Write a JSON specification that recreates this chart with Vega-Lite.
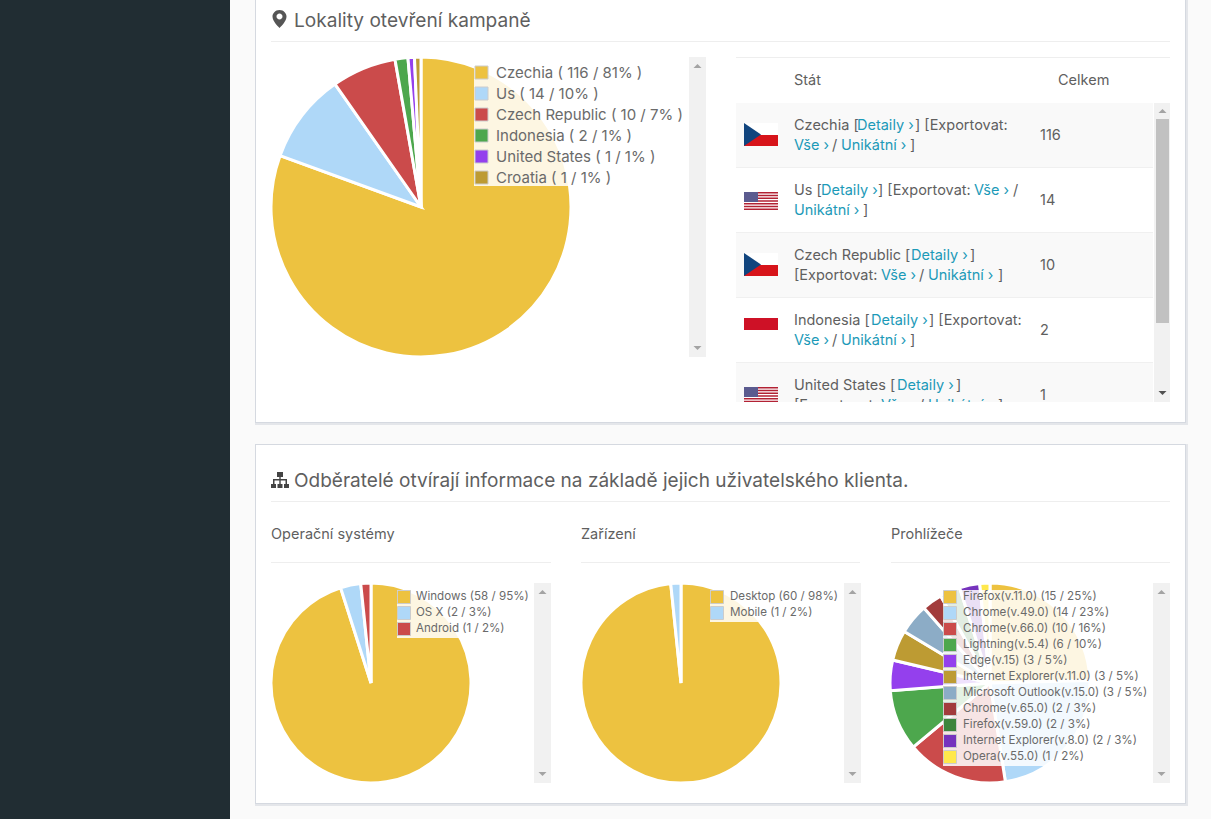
{"$schema":"https://vega.github.io/schema/vega-lite/v6.json","width":1211,"height":819,"autosize":{"type":"fit","contains":"padding"},"padding":0,"background":"#fafafa",
"config":{"view":{"stroke":null},"axis":{"disable":true},"text":{"align":"left","baseline":"middle","font":"Inter","fontSize":14.5,"color":"#5f5f5f","dy":1},"point":{"filled":true,"opacity":1,"size":4,"strokeWidth":0},"legend":{"labelFont":"Inter","labelColor":"#6a6a6a","symbolType":"square","symbolStrokeColor":"#cccccc","symbolStrokeWidth":1,"symbolOpacity":1,"labelLimit":500,"padding":0,"fillColor":"rgba(255,255,255,0.85)","orient":"none"}},
"resolve":{"scale":{"color":"independent","theta":"independent"},"legend":{"color":"independent"}},
"data":{"values":[{"k":"frame"}]},
"layer":[
{"mark":{"type":"rect","color":"#212d33"},"encoding":{"x":{"datum":0,"scale":{"domain":[0,1211],"range":[0,1211],"nice":false,"zero":false}},"x2":{"datum":230},"y":{"datum":0,"scale":{"domain":[0,819],"range":[0,819],"nice":false,"zero":false}},"y2":{"datum":819}}},
{"mark":{"type":"rect","color":"#e4e6ea"},"encoding":{"x":{"datum":255},"x2":{"datum":1188},"y":{"datum":0},"y2":{"datum":425}}},
{"mark":{"type":"rect","color":"#d5d9e0"},"encoding":{"x":{"datum":255},"x2":{"datum":1186},"y":{"datum":0},"y2":{"datum":423}}},
{"mark":{"type":"rect","color":"#ffffff"},"encoding":{"x":{"datum":256},"x2":{"datum":1185},"y":{"datum":0},"y2":{"datum":422}}},
{"mark":{"type":"rect","color":"#e4e6ea"},"encoding":{"x":{"datum":255},"x2":{"datum":1188},"y":{"datum":444},"y2":{"datum":806}}},
{"mark":{"type":"rect","color":"#d5d9e0"},"encoding":{"x":{"datum":255},"x2":{"datum":1186},"y":{"datum":444},"y2":{"datum":804}}},
{"mark":{"type":"rect","color":"#ffffff"},"encoding":{"x":{"datum":256},"x2":{"datum":1185},"y":{"datum":445},"y2":{"datum":803}}},
{"mark":{"type":"rect","color":"#eeeeee"},"encoding":{"x":{"datum":271},"x2":{"datum":1170},"y":{"datum":41},"y2":{"datum":42}}},
{"mark":{"type":"rect","color":"#eeeeee"},"encoding":{"x":{"datum":271},"x2":{"datum":1170},"y":{"datum":501},"y2":{"datum":502}}},
{"mark":{"type":"rect","color":"#eeeeee"},"encoding":{"x":{"datum":271},"x2":{"datum":551},"y":{"datum":562},"y2":{"datum":563}}},
{"mark":{"type":"rect","color":"#eeeeee"},"encoding":{"x":{"datum":581},"x2":{"datum":860},"y":{"datum":562},"y2":{"datum":563}}},
{"mark":{"type":"rect","color":"#eeeeee"},"encoding":{"x":{"datum":891},"x2":{"datum":1170},"y":{"datum":562},"y2":{"datum":563}}},
{"mark":{"type":"point","color":"#555555","shape":"M0,-9C-4.5,-9 -7,-5.5 -7,-2.5C-7,2 -2,7 0,9C2,7 7,2 7,-2.5C7,-5.5 4.5,-9 0,-9ZM0,-5.5A3,3 0 1 1 -0.01,-5.5Z"},"encoding":{"x":{"datum":279.5},"y":{"datum":19}}},
{"mark":{"type":"point","color":"#444444","shape":"M-3,-8H3V-3H-3ZM-0.7,-3H0.7V-1H7V4H5.5V0.5H0.7V4H-0.7V0.5H-5.5V4H-7V-1H-0.7ZM-9,4H-4V8H-9ZM-2.5,4H2.5V8H-2.5ZM4,4H9V8H4Z"},"encoding":{"x":{"datum":280},"y":{"datum":480}}},
{"data":{"values":[{"t":"Lokality otevření kampaně"}]},"mark":{"type":"text","fontSize":19.1},"encoding":{"x":{"datum":294},"y":{"datum":20},"text":{"field":"t"}}},
{"data":{"values":[{"t":"Odběratelé otvírají informace na základě jejich uživatelského klienta."}]},"mark":{"type":"text","fontSize":19.05},"encoding":{"x":{"datum":294},"y":{"datum":480},"text":{"field":"t"}}},
{"data":{"values":[{"t":"Operační systémy"}]},"mark":{"type":"text"},"encoding":{"x":{"datum":271},"y":{"datum":534},"text":{"field":"t"}}},
{"data":{"values":[{"t":"Zařízení"}]},"mark":{"type":"text"},"encoding":{"x":{"datum":581},"y":{"datum":534},"text":{"field":"t"}}},
{"data":{"values":[{"t":"Prohlížeče"}]},"mark":{"type":"text"},"encoding":{"x":{"datum":891},"y":{"datum":534},"text":{"field":"t"}}},

{"mark":{"type":"rect","color":"#f1f1f1"},"encoding":{"x":{"datum":689},"x2":{"datum":706},"y":{"datum":57},"y2":{"datum":357}}},
{"mark":{"type":"rect","color":"#f1f1f1"},"encoding":{"x":{"datum":534},"x2":{"datum":551},"y":{"datum":583},"y2":{"datum":783}}},
{"mark":{"type":"rect","color":"#f1f1f1"},"encoding":{"x":{"datum":844},"x2":{"datum":861},"y":{"datum":583},"y2":{"datum":783}}},
{"mark":{"type":"rect","color":"#f1f1f1"},"encoding":{"x":{"datum":1153},"x2":{"datum":1170},"y":{"datum":583},"y2":{"datum":783}}},
{"mark":{"type":"point","color":"#a3a3a3","shape":"M-4,2L4,2L0,-2Z"},"encoding":{"x":{"datum":697.5},"y":{"datum":66}}},
{"mark":{"type":"point","color":"#a3a3a3","shape":"M-4,-2L4,-2L0,2Z"},"encoding":{"x":{"datum":697.5},"y":{"datum":348}}},
{"mark":{"type":"point","color":"#a3a3a3","shape":"M-4,2L4,2L0,-2Z"},"encoding":{"x":{"datum":542.5},"y":{"datum":592}}},
{"mark":{"type":"point","color":"#a3a3a3","shape":"M-4,-2L4,-2L0,2Z"},"encoding":{"x":{"datum":542.5},"y":{"datum":774}}},
{"mark":{"type":"point","color":"#a3a3a3","shape":"M-4,2L4,2L0,-2Z"},"encoding":{"x":{"datum":852.5},"y":{"datum":592}}},
{"mark":{"type":"point","color":"#a3a3a3","shape":"M-4,-2L4,-2L0,2Z"},"encoding":{"x":{"datum":852.5},"y":{"datum":774}}},
{"mark":{"type":"point","color":"#a3a3a3","shape":"M-4,2L4,2L0,-2Z"},"encoding":{"x":{"datum":1161.5},"y":{"datum":592}}},
{"mark":{"type":"point","color":"#a3a3a3","shape":"M-4,-2L4,-2L0,2Z"},"encoding":{"x":{"datum":1161.5},"y":{"datum":774}}},

{"data":{"values":[{"label":"Czechia ( 116 / 81% )","value":116,"i":1},{"label":"Us ( 14 / 10% )","value":14,"i":2},{"label":"Czech Republic ( 10 / 7% )","value":10,"i":3},{"label":"Indonesia ( 2 / 1% )","value":2,"i":4},{"label":"United States ( 1 / 1% )","value":1,"i":5},{"label":"Croatia ( 1 / 1% )","value":1,"i":6}]},
"mark":{"type":"arc","outerRadius":150,"stroke":"#ffffff","strokeWidth":3},
"encoding":{"x":{"datum":421},"y":{"datum":207},"theta":{"field":"value","type":"quantitative"},"order":{"field":"i","type":"quantitative"},
"color":{"field":"label","type":"nominal","sort":null,"scale":{"range":["#edc240","#afd8f8","#cb4b4b","#4da74d","#9440ed","#bd9b33"]},"legend":{"title":null,"legendX":474,"legendY":65,"symbolSize":169,"labelFontSize":15,"labelOffset":7,"rowPadding":4,"encode":{"symbols":{"update":{"stroke":{"value":"#cccccc"},"strokeWidth":{"value":1}}}}}}}},

{"data":{"values":[{"label":"Windows (58 / 95%)","value":58,"i":1},{"label":"OS X (2 / 3%)","value":2,"i":2},{"label":"Android (1 / 2%)","value":1,"i":3}]},
"mark":{"type":"arc","outerRadius":100,"stroke":"#ffffff","strokeWidth":3},
"encoding":{"x":{"datum":371},"y":{"datum":683},"theta":{"field":"value","type":"quantitative"},"order":{"field":"i","type":"quantitative"},
"color":{"field":"label","type":"nominal","sort":null,"scale":{"range":["#edc240","#afd8f8","#cb4b4b"]},"legend":{"title":null,"legendX":397,"legendY":590,"symbolSize":169,"labelFontSize":11.6,"labelOffset":5,"rowPadding":-2,"encode":{"symbols":{"update":{"stroke":{"value":"#cccccc"},"strokeWidth":{"value":1}}}}}}}},

{"data":{"values":[{"label":"Desktop (60 / 98%)","value":60,"i":1},{"label":"Mobile (1 / 2%)","value":1,"i":2}]},
"mark":{"type":"arc","outerRadius":100,"stroke":"#ffffff","strokeWidth":3},
"encoding":{"x":{"datum":681},"y":{"datum":683},"theta":{"field":"value","type":"quantitative"},"order":{"field":"i","type":"quantitative"},
"color":{"field":"label","type":"nominal","sort":null,"scale":{"range":["#edc240","#afd8f8"]},"legend":{"title":null,"legendX":710,"legendY":590,"symbolSize":169,"labelFontSize":11.6,"labelOffset":6,"rowPadding":-2,"encode":{"symbols":{"update":{"stroke":{"value":"#cccccc"},"strokeWidth":{"value":1}}}}}}}},

{"data":{"values":[{"label":"Firefox(v.11.0) (15 / 25%)","value":15,"i":1},{"label":"Chrome(v.49.0) (14 / 23%)","value":14,"i":2},{"label":"Chrome(v.66.0) (10 / 16%)","value":10,"i":3},{"label":"Lightning(v.5.4) (6 / 10%)","value":6,"i":4},{"label":"Edge(v.15) (3 / 5%)","value":3,"i":5},{"label":"Internet Explorer(v.11.0) (3 / 5%)","value":3,"i":6},{"label":"Microsoft Outlook(v.15.0) (3 / 5%)","value":3,"i":7},{"label":"Chrome(v.65.0) (2 / 3%)","value":2,"i":8},{"label":"Firefox(v.59.0) (2 / 3%)","value":2,"i":9},{"label":"Internet Explorer(v.8.0) (2 / 3%)","value":2,"i":10},{"label":"Opera(v.55.0) (1 / 2%)","value":1,"i":11}]},
"mark":{"type":"arc","outerRadius":100,"stroke":"#ffffff","strokeWidth":3},
"encoding":{"x":{"datum":990},"y":{"datum":683},"theta":{"field":"value","type":"quantitative"},"order":{"field":"i","type":"quantitative"},
"color":{"field":"label","type":"nominal","sort":null,"scale":{"range":["#edc240","#afd8f8","#cb4b4b","#4da74d","#9440ed","#bd9b33","#8cacc6","#a23c3c","#3d853d","#7633bd","#ffe84c"]},"legend":{"title":null,"legendX":943,"legendY":590,"symbolSize":169,"labelFontSize":11.6,"labelOffset":6,"rowPadding":-2,"symbolLimit":20,"encode":{"symbols":{"update":{"stroke":{"value":"#cccccc"},"strokeWidth":{"value":1}}}}}}}},

{"mark":{"type":"rect","color":"#eeeeee"},"encoding":{"x":{"datum":736},"x2":{"datum":1170},"y":{"datum":57},"y2":{"datum":58}}},
{"data":{"values":[{"t":"Stát"}]},"mark":{"type":"text"},"encoding":{"x":{"datum":794},"y":{"datum":80},"text":{"field":"t"}}},
{"data":{"values":[{"t":"Celkem"}]},"mark":{"type":"text"},"encoding":{"x":{"datum":1058},"y":{"datum":80},"text":{"field":"t"}}},
{"mark":{"type":"rect","color":"#f9f9f9"},"encoding":{"x":{"datum":736},"x2":{"datum":1153},"y":{"datum":103},"y2":{"datum":167}}},
{"mark":{"type":"rect","color":"#f9f9f9"},"encoding":{"x":{"datum":736},"x2":{"datum":1153},"y":{"datum":233},"y2":{"datum":297}}},
{"mark":{"type":"rect","color":"#f9f9f9"},"encoding":{"x":{"datum":736},"x2":{"datum":1153},"y":{"datum":363},"y2":{"datum":402}}},
{"mark":{"type":"rect","color":"#f0f0f0"},"encoding":{"x":{"datum":736},"x2":{"datum":1153},"y":{"datum":167},"y2":{"datum":168}}},
{"mark":{"type":"rect","color":"#f0f0f0"},"encoding":{"x":{"datum":736},"x2":{"datum":1153},"y":{"datum":232},"y2":{"datum":233}}},
{"mark":{"type":"rect","color":"#f0f0f0"},"encoding":{"x":{"datum":736},"x2":{"datum":1153},"y":{"datum":297},"y2":{"datum":298}}},
{"mark":{"type":"rect","color":"#f0f0f0"},"encoding":{"x":{"datum":736},"x2":{"datum":1153},"y":{"datum":362},"y2":{"datum":363}}},
{"mark":{"type":"rect","color":"#f1f1f1"},"encoding":{"x":{"datum":1154},"x2":{"datum":1170},"y":{"datum":103},"y2":{"datum":402}}},
{"mark":{"type":"rect","color":"#c1c1c1"},"encoding":{"x":{"datum":1156},"x2":{"datum":1169},"y":{"datum":119},"y2":{"datum":323}}},
{"mark":{"type":"point","color":"#a3a3a3","shape":"M-4,2L4,2L0,-2Z"},"encoding":{"x":{"datum":1162.5},"y":{"datum":111}}},
{"mark":{"type":"point","color":"#505050","shape":"M-4,-2L4,-2L0,2Z"},"encoding":{"x":{"datum":1162.5},"y":{"datum":393}}},

{"mark":{"type":"rect","color":"#ffffff"},"encoding":{"x":{"datum":744},"x2":{"datum":778},"y":{"datum":123},"y2":{"datum":135}}},
{"mark":{"type":"rect","color":"#d7141a"},"encoding":{"x":{"datum":744},"x2":{"datum":778},"y":{"datum":135},"y2":{"datum":146}}},
{"mark":{"type":"point","color":"#11457e","shape":"M-8.5,-11.5L8.5,0L-8.5,11.5Z"},"encoding":{"x":{"datum":752.5},"y":{"datum":134.5}}},
{"mark":{"type":"rect","color":"#ffffff"},"encoding":{"x":{"datum":744},"x2":{"datum":778},"y":{"datum":253},"y2":{"datum":265}}},
{"mark":{"type":"rect","color":"#d7141a"},"encoding":{"x":{"datum":744},"x2":{"datum":778},"y":{"datum":265},"y2":{"datum":276}}},
{"mark":{"type":"point","color":"#11457e","shape":"M-8.5,-11.5L8.5,0L-8.5,11.5Z"},"encoding":{"x":{"datum":752.5},"y":{"datum":264.5}}},
{"mark":{"type":"rect","color":"#ce1126"},"encoding":{"x":{"datum":744},"x2":{"datum":778},"y":{"datum":318},"y2":{"datum":330}}},
{"mark":{"type":"rect","color":"#ffffff"},"encoding":{"x":{"datum":744},"x2":{"datum":778},"y":{"datum":192},"y2":{"datum":210}}},
{"mark":{"type":"point","color":"#b22234","shape":"M-17,-9H17V-7.6H-17ZM-17,-6.23H17V-4.85H-17ZM-17,-3.46H17V-2.08H-17ZM-17,-0.69H17V0.69H-17ZM-17,2.08H17V3.46H-17ZM-17,4.85H17V6.23H-17ZM-17,7.62H17V9H-17Z"},"encoding":{"x":{"datum":761},"y":{"datum":201}}},
{"mark":{"type":"rect","color":"#5b5b8f"},"encoding":{"x":{"datum":744},"x2":{"datum":758},"y":{"datum":192},"y2":{"datum":202}}},
{"mark":{"type":"rect","color":"#ffffff"},"encoding":{"x":{"datum":744},"x2":{"datum":778},"y":{"datum":387},"y2":{"datum":405}}},
{"mark":{"type":"point","color":"#b22234","shape":"M-17,-9H17V-7.6H-17ZM-17,-6.23H17V-4.85H-17ZM-17,-3.46H17V-2.08H-17ZM-17,-0.69H17V0.69H-17ZM-17,2.08H17V3.46H-17ZM-17,4.85H17V6.23H-17ZM-17,7.62H17V9H-17Z"},"encoding":{"x":{"datum":761},"y":{"datum":396}}},
{"mark":{"type":"rect","color":"#5b5b8f"},"encoding":{"x":{"datum":744},"x2":{"datum":758},"y":{"datum":387},"y2":{"datum":397}}},

{"data":{"values":[{"t":"Czechia ["}]},"mark":{"type":"text"},"encoding":{"x":{"datum":794},"y":{"datum":125},"text":{"field":"t"}}},
{"data":{"values":[{"t":"Detaily ›"}]},"mark":{"type":"text","color":"#1c9ab8"},"encoding":{"x":{"datum":857},"y":{"datum":125},"text":{"field":"t"}}},
{"data":{"values":[{"t":"] [Exportovat:"}]},"mark":{"type":"text"},"encoding":{"x":{"datum":915},"y":{"datum":125},"text":{"field":"t"}}},
{"data":{"values":[{"t":"Vše ›"}]},"mark":{"type":"text","color":"#1c9ab8"},"encoding":{"x":{"datum":794},"y":{"datum":145},"text":{"field":"t"}}},
{"data":{"values":[{"t":"/"}]},"mark":{"type":"text"},"encoding":{"x":{"datum":832},"y":{"datum":145},"text":{"field":"t"}}},
{"data":{"values":[{"t":"Unikátní ›"}]},"mark":{"type":"text","color":"#1c9ab8"},"encoding":{"x":{"datum":841},"y":{"datum":145},"text":{"field":"t"}}},
{"data":{"values":[{"t":"]"}]},"mark":{"type":"text"},"encoding":{"x":{"datum":910},"y":{"datum":145},"text":{"field":"t"}}},
{"data":{"values":[{"stat":"Czechia","celkem":116}]},"mark":{"type":"text"},"encoding":{"x":{"datum":1040},"y":{"datum":135},"text":{"field":"celkem"}}},

{"data":{"values":[{"t":"Us ["}]},"mark":{"type":"text"},"encoding":{"x":{"datum":794},"y":{"datum":190},"text":{"field":"t"}}},
{"data":{"values":[{"t":"Detaily ›"}]},"mark":{"type":"text","color":"#1c9ab8"},"encoding":{"x":{"datum":821},"y":{"datum":190},"text":{"field":"t"}}},
{"data":{"values":[{"t":"] [Exportovat:"}]},"mark":{"type":"text"},"encoding":{"x":{"datum":878},"y":{"datum":190},"text":{"field":"t"}}},
{"data":{"values":[{"t":"Vše ›"}]},"mark":{"type":"text","color":"#1c9ab8"},"encoding":{"x":{"datum":974},"y":{"datum":190},"text":{"field":"t"}}},
{"data":{"values":[{"t":"/"}]},"mark":{"type":"text"},"encoding":{"x":{"datum":1013},"y":{"datum":190},"text":{"field":"t"}}},
{"data":{"values":[{"t":"Unikátní ›"}]},"mark":{"type":"text","color":"#1c9ab8"},"encoding":{"x":{"datum":794},"y":{"datum":210},"text":{"field":"t"}}},
{"data":{"values":[{"t":"]"}]},"mark":{"type":"text"},"encoding":{"x":{"datum":863},"y":{"datum":210},"text":{"field":"t"}}},
{"data":{"values":[{"stat":"Us","celkem":14}]},"mark":{"type":"text"},"encoding":{"x":{"datum":1040},"y":{"datum":200},"text":{"field":"celkem"}}},

{"data":{"values":[{"t":"Czech Republic ["}]},"mark":{"type":"text"},"encoding":{"x":{"datum":794},"y":{"datum":255},"text":{"field":"t"}}},
{"data":{"values":[{"t":"Detaily ›"}]},"mark":{"type":"text","color":"#1c9ab8"},"encoding":{"x":{"datum":911},"y":{"datum":255},"text":{"field":"t"}}},
{"data":{"values":[{"t":"]"}]},"mark":{"type":"text"},"encoding":{"x":{"datum":970},"y":{"datum":255},"text":{"field":"t"}}},
{"data":{"values":[{"t":"[Exportovat:"}]},"mark":{"type":"text"},"encoding":{"x":{"datum":794},"y":{"datum":275},"text":{"field":"t"}}},
{"data":{"values":[{"t":"Vše ›"}]},"mark":{"type":"text","color":"#1c9ab8"},"encoding":{"x":{"datum":881},"y":{"datum":275},"text":{"field":"t"}}},
{"data":{"values":[{"t":"/"}]},"mark":{"type":"text"},"encoding":{"x":{"datum":919},"y":{"datum":275},"text":{"field":"t"}}},
{"data":{"values":[{"t":"Unikátní ›"}]},"mark":{"type":"text","color":"#1c9ab8"},"encoding":{"x":{"datum":928},"y":{"datum":275},"text":{"field":"t"}}},
{"data":{"values":[{"t":"]"}]},"mark":{"type":"text"},"encoding":{"x":{"datum":998},"y":{"datum":275},"text":{"field":"t"}}},
{"data":{"values":[{"stat":"Czech Republic","celkem":10}]},"mark":{"type":"text"},"encoding":{"x":{"datum":1040},"y":{"datum":265},"text":{"field":"celkem"}}},

{"data":{"values":[{"t":"Indonesia ["}]},"mark":{"type":"text"},"encoding":{"x":{"datum":794},"y":{"datum":320},"text":{"field":"t"}}},
{"data":{"values":[{"t":"Detaily ›"}]},"mark":{"type":"text","color":"#1c9ab8"},"encoding":{"x":{"datum":871},"y":{"datum":320},"text":{"field":"t"}}},
{"data":{"values":[{"t":"] [Exportovat:"}]},"mark":{"type":"text"},"encoding":{"x":{"datum":929},"y":{"datum":320},"text":{"field":"t"}}},
{"data":{"values":[{"t":"Vše ›"}]},"mark":{"type":"text","color":"#1c9ab8"},"encoding":{"x":{"datum":794},"y":{"datum":340},"text":{"field":"t"}}},
{"data":{"values":[{"t":"/"}]},"mark":{"type":"text"},"encoding":{"x":{"datum":832},"y":{"datum":340},"text":{"field":"t"}}},
{"data":{"values":[{"t":"Unikátní ›"}]},"mark":{"type":"text","color":"#1c9ab8"},"encoding":{"x":{"datum":841},"y":{"datum":340},"text":{"field":"t"}}},
{"data":{"values":[{"t":"]"}]},"mark":{"type":"text"},"encoding":{"x":{"datum":910},"y":{"datum":340},"text":{"field":"t"}}},
{"data":{"values":[{"stat":"Indonesia","celkem":2}]},"mark":{"type":"text"},"encoding":{"x":{"datum":1040},"y":{"datum":330},"text":{"field":"celkem"}}},

{"data":{"values":[{"t":"United States ["}]},"mark":{"type":"text"},"encoding":{"x":{"datum":794},"y":{"datum":385},"text":{"field":"t"}}},
{"data":{"values":[{"t":"Detaily ›"}]},"mark":{"type":"text","color":"#1c9ab8"},"encoding":{"x":{"datum":897},"y":{"datum":385},"text":{"field":"t"}}},
{"data":{"values":[{"t":"]"}]},"mark":{"type":"text"},"encoding":{"x":{"datum":956},"y":{"datum":385},"text":{"field":"t"}}},
{"data":{"values":[{"t":"[Exportovat:"}]},"mark":{"type":"text"},"encoding":{"x":{"datum":794},"y":{"datum":405},"text":{"field":"t"}}},
{"data":{"values":[{"t":"Vše ›"}]},"mark":{"type":"text","color":"#1c9ab8"},"encoding":{"x":{"datum":881},"y":{"datum":405},"text":{"field":"t"}}},
{"data":{"values":[{"t":"/"}]},"mark":{"type":"text"},"encoding":{"x":{"datum":919},"y":{"datum":405},"text":{"field":"t"}}},
{"data":{"values":[{"t":"Unikátní ›"}]},"mark":{"type":"text","color":"#1c9ab8"},"encoding":{"x":{"datum":928},"y":{"datum":405},"text":{"field":"t"}}},
{"data":{"values":[{"t":"]"}]},"mark":{"type":"text"},"encoding":{"x":{"datum":998},"y":{"datum":405},"text":{"field":"t"}}},
{"data":{"values":[{"stat":"United States","celkem":1}]},"mark":{"type":"text"},"encoding":{"x":{"datum":1040},"y":{"datum":395},"text":{"field":"celkem"}}},
{"mark":{"type":"rect","color":"#ffffff"},"encoding":{"x":{"datum":736},"x2":{"datum":1170},"y":{"datum":402},"y2":{"datum":420}}}
]}
